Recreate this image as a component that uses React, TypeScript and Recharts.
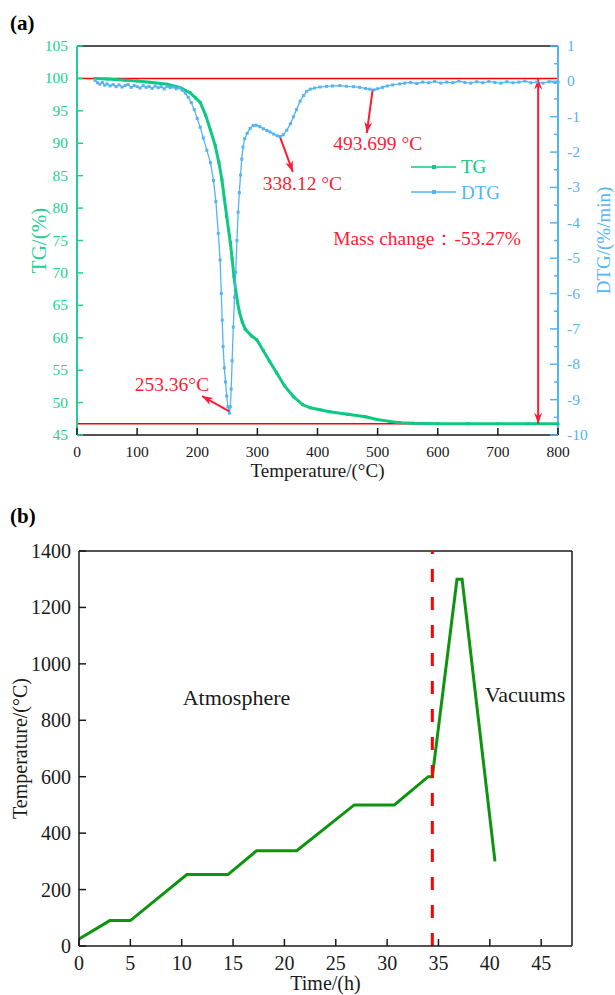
import React from 'react';
import { ComposedChart, Line, XAxis, YAxis, ReferenceLine, ReferenceDot, Label } from 'recharts';

const FONT = "'Times New Roman', 'Liberation Serif', serif";
const TG_AXIS = '#22cf90';
const TG_COLOR = '#0fc883';
const DTG_COLOR = '#52b4f4';
const RED = '#ff1a36';
const INK = '#1a1a1a';
const PROGRAM_COLOR = '#0f940f';

// ---- (a) TG / DTG curves ----
const tgTemps = [30, 50, 80, 100, 121, 150, 171, 188, 197, 205, 214, 222, 230, 236, 241, 245, 249, 252, 255, 258, 261, 264, 267, 270, 275, 280, 290, 299, 310, 320, 332, 345, 360, 375, 388, 404, 420, 450, 480, 499, 520, 537, 560, 600, 650, 700, 750, 800];
const tgValues = [100, 99.9, 99.7, 99.6, 99.4, 99.1, 98.6, 97.8, 97.0, 96.3, 94.3, 92.0, 89.6, 87.0, 84.4, 81.5, 78.7, 76.7, 74.7, 72.2, 69.5, 67.3, 65.5, 64.0, 62.4, 61.3, 60.3, 59.7, 58.0, 56.4, 54.6, 52.6, 50.9, 49.7, 49.2, 48.9, 48.6, 48.2, 47.8, 47.4, 47.1, 46.9, 46.8, 46.75, 46.73, 46.73, 46.73, 46.73];

const dtgTemps = [30, 34, 38, 42, 46, 50, 55, 60, 65, 70, 75, 80, 85, 90, 95, 100, 105, 110, 115, 120, 125, 130, 135, 140, 145, 150, 155, 160, 165, 170, 175, 180, 185, 190, 195, 200, 205, 210, 216, 222, 227, 231, 235, 238, 240, 241.5, 243, 245, 247, 249, 251, 253.4, 255, 256.5, 258, 260, 262, 264, 266, 268, 270, 272, 274, 276, 279, 283, 288, 293, 298, 304, 310, 316, 321, 327, 333, 338, 343, 349, 355, 360, 365, 371, 377, 382, 388, 395, 404, 415, 425, 437, 448, 460, 470, 480, 487, 494, 500, 508, 516, 525, 537, 545, 555, 565, 575, 585, 595, 605, 615, 625, 635, 645, 655, 665, 675, 685, 695, 705, 715, 725, 735, 745, 755, 765, 775, 785, 795, 800];
const dtgValues = [0.03, -0.04, -0.08, -0.03, -0.11, -0.07, -0.13, -0.09, -0.15, -0.1, -0.16, -0.12, -0.09, -0.17, -0.12, -0.15, -0.19, -0.12, -0.17, -0.14, -0.2, -0.13, -0.18, -0.15, -0.21, -0.14, -0.18, -0.16, -0.21, -0.18, -0.25, -0.33, -0.45, -0.6, -0.8, -1.05, -1.3, -1.6, -1.95, -2.3, -2.8, -3.4, -4.3, -5.05, -6.0, -6.75, -7.5, -8.1, -8.5, -8.9, -9.2, -9.38, -9.2, -8.7, -7.9, -6.95, -6.1, -5.4, -4.5, -3.7, -3.15, -2.65, -2.2, -1.86, -1.62, -1.47, -1.33, -1.25, -1.24, -1.28, -1.34, -1.39, -1.43, -1.49, -1.54, -1.56, -1.51, -1.38, -1.2, -1.0, -0.8, -0.56, -0.4, -0.28, -0.22, -0.19, -0.16, -0.14, -0.13, -0.12, -0.14, -0.15, -0.17, -0.2, -0.22, -0.24, -0.21, -0.17, -0.13, -0.1, -0.07, -0.05, -0.03, -0.06, -0.02, -0.04, 0.0, -0.05, -0.02, -0.04, 0.01, -0.03, -0.05, -0.01, -0.04, 0.0, -0.03, -0.05, -0.01, -0.04, -0.02, 0.01, -0.04, -0.02, -0.05, -0.01, -0.03, -0.02];

const tempTicks = [0, 100, 200, 300, 400, 500, 600, 700, 800];
const tgTicks = [45, 50, 55, 60, 65, 70, 75, 80, 85, 90, 95, 100, 105];
const dtgTicks = [-10, -9.5, -9, -8.5, -8, -7.5, -7, -6.5, -6, -5.5, -5, -4.5, -4, -3.5, -3, -2.5, -2, -1.5, -1, -0.5, 0, 0.5, 1];

const massChange = -53.27;
const residue = 100 + massChange;
const peakMain = { t: 253.36, v: -9.38 };
const peakSecond = { t: 338.12, v: -1.56 };
const peakThird = { t: 493.699, v: -0.24 };

// ---- (b) heating program ----
const hours = [0, 3, 5, 10.5, 14.5, 17.3, 21.2, 26.8, 30.7, 34.0, 34.4, 36.8, 37.3, 40.5];
const programTemps = [25, 90, 90, 253, 253, 338, 338, 500, 500, 600, 600, 1300, 1300, 300];
const hourTicks = [0, 5, 10, 15, 20, 25, 30, 35, 40, 45];
const programTicks = [0, 200, 400, 600, 800, 1000, 1200, 1400];
const vacuumStart = 34.4;

const tgData = tgTemps.map((t, i) => ({ t, tg: tgValues[i] }));
const dtgData = dtgTemps.map((t, i) => ({ t, dtg: dtgValues[i] }));
const programData = hours.map((h, i) => ({ h, temp: programTemps[i] }));

const squareDot = (color: string, s: number) => (p: any) => (
  <rect key={`sq-${p.index}`} x={p.cx - s / 2} y={p.cy - s / 2} width={s} height={s} fill={color} />
);

// notched arrow head pointing from a to b, tip at b
const arrowHead = (ax: number, ay: number, bx: number, by: number, key: string) => {
  const len = 11;
  const w = 4;
  const d = Math.hypot(bx - ax, by - ay) || 1;
  const ux = (bx - ax) / d;
  const uy = (by - ay) / d;
  const nx = -uy;
  const ny = ux;
  const pts = [
    [bx, by],
    [bx - len * ux + w * nx, by - len * uy + w * ny],
    [bx - (len - 3.5) * ux, by - (len - 3.5) * uy],
    [bx - len * ux - w * nx, by - len * uy - w * ny],
  ];
  return <polygon key={key} points={pts.map((q) => q.join(',')).join(' ')} fill={RED} />;
};

const arrowShape = (both: boolean) => (p: any) => {
  const { x1, y1, x2, y2 } = p;
  return (
    <g>
      <line x1={x1} y1={y1} x2={x2} y2={y2} stroke={RED} strokeWidth={2} />
      {arrowHead(x1, y1, x2, y2, 'end')}
      {both && arrowHead(x2, y2, x1, y1, 'start')}
    </g>
  );
};

const textShape = (txt: string, color: string, size: number, anchor: string = 'start') => (p: any) => (
  <text x={p.cx} y={p.cy} fill={color} fontSize={size} fontFamily={FONT} textAnchor={anchor}>
    {txt}
  </text>
);

const TgTick = ({ x, y, payload }: any) => (
  <g>
    <line x1={x} y1={y} x2={x + 6} y2={y} stroke={TG_AXIS} strokeWidth={1.5} />
    <text x={x - 9} y={y + 5} textAnchor="end" fill={TG_AXIS} fontSize={15.5} fontFamily={FONT}>
      {payload.value}
    </text>
  </g>
);

const DtgTick = ({ x, y, payload }: any) => {
  const major = Number.isInteger(payload.value);
  return (
    <g>
      <line x1={x - (major ? 8 : 4)} y1={y} x2={x} y2={y} stroke={DTG_COLOR} strokeWidth={1.5} />
      {major && (
        <text x={x + 9} y={y + 5} textAnchor="start" fill={DTG_COLOR} fontSize={15.5} fontFamily={FONT}>
          {payload.value}
        </text>
      )}
    </g>
  );
};

const TempTick = ({ x, y, payload }: any) => (
  <g>
    <line x1={x} y1={y} x2={x} y2={y - 7} stroke={INK} strokeWidth={1.5} />
    <text x={x} y={y + 22} textAnchor="middle" fill={INK} fontSize={15.5} fontFamily={FONT}>
      {payload.value}
    </text>
  </g>
);

const HourTick = ({ x, y, payload }: any) => (
  <g>
    <line x1={x} y1={y} x2={x} y2={y - 7} stroke={INK} strokeWidth={1.5} />
    <text x={x} y={y + 24} textAnchor="middle" fill={INK} fontSize={20} fontFamily={FONT}>
      {payload.value}
    </text>
  </g>
);

const ProgramTick = ({ x, y, payload }: any) => (
  <g>
    <line x1={x} y1={y} x2={x + 7} y2={y} stroke={INK} strokeWidth={1.5} />
    <text x={x - 8} y={y + 7} textAnchor="end" fill={INK} fontSize={20} fontFamily={FONT}>
      {payload.value}
    </text>
  </g>
);

const vTitle = (txt: string, color: string, size: number, dx: number) => (props: any) => {
  const vb = props.viewBox;
  const cx = vb.x + dx;
  const cy = vb.y + vb.height / 2;
  return (
    <text x={cx} y={cy} transform={`rotate(-90, ${cx}, ${cy})`} textAnchor="middle" fill={color} fontSize={size} fontFamily={FONT}>
      {txt}
    </text>
  );
};

const hTitle = (txt: string, size: number, dy: number) => (props: any) => {
  const vb = props.viewBox;
  return (
    <text x={vb.x + vb.width / 2} y={vb.y + dy} textAnchor="middle" fill={INK} fontSize={size} fontFamily={FONT}>
      {txt}
    </text>
  );
};

const LegendBox = () => (
  <svg width={120} height={50} style={{ position: 'absolute', left: 405, top: 153 }}>
    <line x1={6} y1={14} x2={51} y2={14} stroke={TG_COLOR} strokeWidth={1.5} />
    <rect x={27} y={12} width={4} height={4} fill={TG_COLOR} />
    <text x={56} y={20} fill={TG_COLOR} fontSize={19} fontFamily={FONT}>TG</text>
    <line x1={6} y1={39} x2={51} y2={39} stroke={DTG_COLOR} strokeWidth={1.5} />
    <rect x={27} y={37} width={4} height={4} fill={DTG_COLOR} />
    <text x={56} y={46} fill={DTG_COLOR} fontSize={19} fontFamily={FONT}>DTG</text>
  </svg>
);

const panelTag: React.CSSProperties = {
  position: 'absolute',
  left: 10,
  fontFamily: FONT,
  fontWeight: 'bold',
  fontSize: 21,
  lineHeight: '21px',
};

export default function App() {
  return (
    <div style={{ position: 'absolute', left: 0, top: 0, width: 615, height: 995, background: '#fff' }}>
      <div style={{ ...panelTag, top: 13 }}>(a)</div>
      <div style={{ ...panelTag, top: 506 }}>(b)</div>

      <div style={{ position: 'absolute', left: 0, top: 0 }}>
        <ComposedChart width={615} height={490} margin={{ top: 46, right: 0, bottom: 0, left: 0 }}>
          <XAxis
            type="number"
            dataKey="t"
            domain={[0, 800]}
            ticks={tempTicks}
            interval={0}
            height={55}
            tickSize={0}
            tickMargin={0}
            tick={<TempTick />}
            axisLine={{ stroke: INK, strokeWidth: 1.5 }}
            allowDuplicatedCategory={false}
          >
            <Label content={hTitle('Temperature/(°C)', 19, 42)} />
          </XAxis>
          <YAxis
            yAxisId="tg"
            type="number"
            domain={[45, 105]}
            ticks={tgTicks}
            interval={0}
            width={77}
            tickSize={0}
            tickMargin={0}
            tick={<TgTick />}
            axisLine={{ stroke: TG_AXIS, strokeWidth: 2 }}
          >
            <Label content={vTitle('TG/(%)', TG_AXIS, 21, 46)} />
          </YAxis>
          <YAxis
            yAxisId="dtg"
            orientation="right"
            type="number"
            domain={[-10, 1]}
            ticks={dtgTicks}
            interval={0}
            width={57}
            tickSize={0}
            tickMargin={0}
            tick={<DtgTick />}
            axisLine={{ stroke: DTG_COLOR, strokeWidth: 2 }}
          >
            <Label content={vTitle('DTG/(%/min)', DTG_COLOR, 19, 52)} />
          </YAxis>

          <ReferenceLine yAxisId="tg" y={105} stroke={INK} strokeWidth={1.5} />
          <ReferenceLine yAxisId="tg" y={100} stroke="#ff0000" strokeWidth={1.5} />
          <ReferenceLine yAxisId="tg" y={residue} stroke="#ff0000" strokeWidth={1.5} />

          <Line
            yAxisId="tg"
            data={tgData}
            dataKey="tg"
            type="linear"
            stroke={TG_COLOR}
            strokeWidth={3}
            dot={squareDot(TG_COLOR, 3)}
            activeDot={false}
            isAnimationActive={false}
          />
          <Line
            yAxisId="dtg"
            data={dtgData}
            dataKey="dtg"
            type="linear"
            stroke={DTG_COLOR}
            strokeWidth={1.3}
            dot={squareDot(DTG_COLOR, 3)}
            activeDot={false}
            isAnimationActive={false}
          />

          <ReferenceLine
            yAxisId="dtg"
            segment={[{ x: peakMain.t, y: peakMain.v + 0.05 }, { x: 208, y: -8.9 }]}
            shape={arrowShape(false)}
          />
          <ReferenceLine
            yAxisId="dtg"
            segment={[{ x: peakSecond.t, y: peakSecond.v - 0.03 }, { x: 359, y: -2.56 }]}
            shape={arrowShape(false)}
          />
          <ReferenceLine
            yAxisId="dtg"
            segment={[{ x: peakThird.t - 2, y: peakThird.v }, { x: 482, y: -1.46 }]}
            shape={arrowShape(false)}
          />
          <ReferenceLine
            yAxisId="tg"
            segment={[{ x: 767, y: 100 }, { x: 767, y: residue }]}
            shape={arrowShape(true)}
          />

          <ReferenceDot yAxisId="dtg" x={96} y={-8.75} r={0} shape={textShape('253.36°C', RED, 19.5)} />
          <ReferenceDot yAxisId="dtg" x={309} y={-3.07} r={0} shape={textShape('338.12 °C', RED, 19.5)} />
          <ReferenceDot yAxisId="dtg" x={426} y={-1.93} r={0} shape={textShape('493.699 °C', RED, 19.5)} />
          <ReferenceDot yAxisId="dtg" x={426} y={-4.63} r={0} shape={textShape(`Mass change：${massChange}%`, RED, 19.5)} />
        </ComposedChart>
      </div>
      <LegendBox />

      <div style={{ position: 'absolute', left: 0, top: 500 }}>
        <ComposedChart width={615} height={495} data={programData} margin={{ top: 51, right: 43, bottom: 0, left: 0 }}>
          <XAxis
            type="number"
            dataKey="h"
            domain={[0, 48]}
            ticks={hourTicks}
            interval={0}
            height={49}
            tickSize={0}
            tickMargin={0}
            tick={<HourTick />}
            axisLine={{ stroke: INK, strokeWidth: 1.5 }}
          >
            <Label content={hTitle('Time/(h)', 20, 44)} />
          </XAxis>
          <YAxis
            type="number"
            domain={[0, 1400]}
            ticks={programTicks}
            interval={0}
            width={79}
            tickSize={0}
            tickMargin={0}
            tick={<ProgramTick />}
            axisLine={{ stroke: INK, strokeWidth: 1.5 }}
          >
            <Label content={vTitle('Temperature/(°C)', INK, 20, 27)} />
          </YAxis>

          <ReferenceLine y={1400} stroke={INK} strokeWidth={1.5} />
          <ReferenceLine x={48} stroke={INK} strokeWidth={1.5} />

          <Line
            dataKey="temp"
            type="linear"
            stroke={PROGRAM_COLOR}
            strokeWidth={3}
            dot={false}
            activeDot={false}
            isAnimationActive={false}
          />
          <ReferenceLine x={vacuumStart} stroke="#ff0000" strokeWidth={3} strokeDasharray="13 15" />

          <ReferenceDot x={10.1} y={855} r={0} shape={textShape('Atmosphere', INK, 22)} />
          <ReferenceDot x={39.5} y={866} r={0} shape={textShape('Vacuums', INK, 22)} />
        </ComposedChart>
      </div>
    </div>
  );
}
